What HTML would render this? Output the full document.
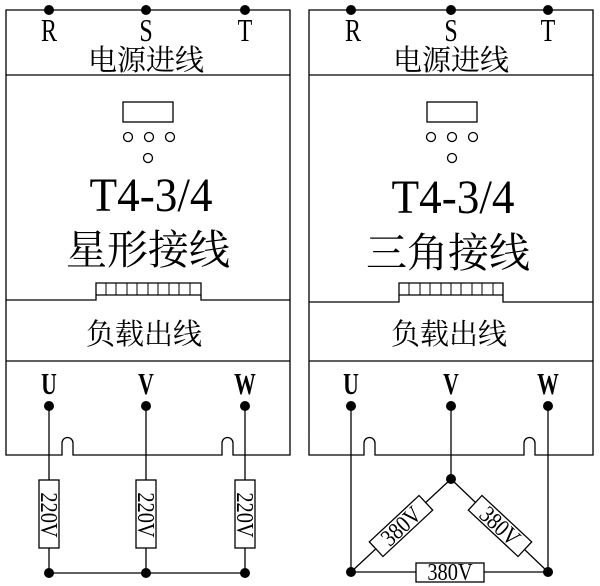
<!DOCTYPE html>
<html><head><meta charset="utf-8"><style>
body{margin:0;background:#fff}
svg{display:block}
.s{font-family:"Liberation Serif","Noto Serif CJK SC",serif;fill:#000}
.c{font-family:"Liberation Serif","Noto Serif CJK SC","Noto Sans CJK SC",serif;fill:#000}
</style></head><body>
<svg width="600" height="586" viewBox="0 0 600 586" xmlns="http://www.w3.org/2000/svg">
<g stroke="#000" stroke-width="1.3" fill="none">
<path d="M6,10 H290 V455 H233 V443 A5.5,5.5 0 0 0 222,443 V455 H73 V443 A5.5,5.5 0 0 0 62,443 V455 H6 Z"/>
<line x1="6" y1="75" x2="290" y2="75"/>
<path d="M6,300 H96 V283 H201 V300 H290"/>
<path d="M96,295 H201"/>
<line x1="6" y1="361" x2="290" y2="361"/>
<rect x="123" y="102" width="50" height="20"/>
<circle cx="128" cy="137" r="4.5"/><circle cx="149" cy="137" r="4.5"/><circle cx="170" cy="137" r="4.5"/><circle cx="148" cy="158" r="4.5"/>
<path d="M309,10 H593 V455 H535 V443 A5.5,5.5 0 0 0 524,443 V455 H375 V443 A5.5,5.5 0 0 0 364,443 V455 H309 Z"/>
<line x1="309" y1="75" x2="593" y2="75"/>
<path d="M309,302 H399 V283 H503 V302 H593"/>
<path d="M399,295 H503"/>
<line x1="309" y1="361" x2="593" y2="361"/>
<rect x="427" y="102" width="50" height="20"/>
<circle cx="431" cy="137" r="4.5"/><circle cx="452" cy="137" r="4.5"/><circle cx="473" cy="137" r="4.5"/><circle cx="452" cy="158" r="4.5"/>
<line x1="49" y1="406" x2="49" y2="573"/><line x1="146" y1="406" x2="146" y2="573"/><line x1="245" y1="406" x2="245" y2="573"/>
<line x1="49" y1="573" x2="245" y2="573"/>
<line x1="351" y1="406" x2="351" y2="572"/><line x1="451" y1="406" x2="451" y2="479"/><line x1="548" y1="406" x2="548" y2="572"/>
<line x1="351" y1="572" x2="548" y2="572"/>
<line x1="351" y1="572" x2="451" y2="479"/><line x1="451" y1="479" x2="548" y2="572"/>
</g>
<g stroke="#000" stroke-width="1">
<path d="M106,283V295M116,283V295M127,283V295M137,283V295M148,283V295M158,283V295M169,283V295M179,283V295M190,283V295"/>
<path d="M409,283V295M420,283V295M430,283V295M441,283V295M451,283V295M461,283V295M472,283V295M482,283V295M493,283V295"/>
</g>
<g stroke="#000" stroke-width="1.3" fill="#fff">
<rect x="39" y="480" width="20" height="68"/><rect x="136" y="480" width="20" height="68"/><rect x="235" y="480" width="20" height="68"/>
<rect x="416" y="563" width="68" height="19"/>
<rect x="-34" y="-10" width="68" height="20" transform="translate(401,526) rotate(-43)"/>
<rect x="-34" y="-10" width="68" height="20" transform="translate(500,526) rotate(43)"/>
</g>
<g fill="#000">
<circle cx="49" cy="10" r="5"/><circle cx="146" cy="10" r="5"/><circle cx="245" cy="10" r="5"/>
<circle cx="351" cy="10" r="5"/><circle cx="451" cy="10" r="5"/><circle cx="548" cy="10" r="5"/>
<circle cx="49" cy="406" r="5"/><circle cx="146" cy="406" r="5"/><circle cx="245" cy="406" r="5"/>
<circle cx="351" cy="406" r="5"/><circle cx="451" cy="406" r="5"/><circle cx="548" cy="406" r="5"/>
<circle cx="49" cy="573" r="5"/><circle cx="146" cy="573" r="5"/><circle cx="245" cy="573" r="5"/>
<circle cx="351" cy="572" r="5"/><circle cx="451" cy="479" r="5"/><circle cx="548" cy="572" r="5"/>
</g>
<g class="s" text-anchor="middle" font-size="32">
<text transform="translate(49,41) scale(0.75,1)">R</text>
<text transform="translate(146,41) scale(0.75,1)">S</text>
<text transform="translate(245,41) scale(0.75,1)">T</text>
<text transform="translate(353,41) scale(0.75,1)">R</text>
<text transform="translate(451,41) scale(0.75,1)">S</text>
<text transform="translate(548,41) scale(0.75,1)">T</text>
</g>
<g class="s" text-anchor="middle" font-size="31" font-weight="bold">
<text transform="translate(49,394) scale(0.7,1)">U</text>
<text transform="translate(146,394) scale(0.7,1)">V</text>
<text transform="translate(245,394) scale(0.7,1)">W</text>
<text transform="translate(351,394) scale(0.7,1)">U</text>
<text transform="translate(451,394) scale(0.7,1)">V</text>
<text transform="translate(548,394) scale(0.7,1)">W</text>
</g>
<g class="c" text-anchor="middle">
<text x="146" y="70" font-size="29">电源进线</text>
<text x="451" y="70" font-size="29">电源进线</text>
<text x="151" y="211" font-size="48" textLength="123" lengthAdjust="spacingAndGlyphs">T4-3/4</text>
<text x="453" y="213" font-size="48" textLength="123" lengthAdjust="spacingAndGlyphs">T4-3/4</text>
<text x="148" y="264" font-size="41">星形接线</text>
<text x="448" y="267" font-size="41">三角接线</text>
<text x="144" y="344" font-size="29">负载出线</text>
<text x="449" y="344" font-size="29">负载出线</text>
</g>
<g class="s" text-anchor="middle" font-size="24">
<text transform="translate(49,515) rotate(90) scale(0.85,1)" y="8">220V</text>
<text transform="translate(146,515) rotate(90) scale(0.85,1)" y="8">220V</text>
<text transform="translate(245,515) rotate(90) scale(0.85,1)" y="8">220V</text>
<text transform="translate(450,580) scale(0.85,1)">380V</text>
<text transform="translate(401,526) rotate(-43) scale(0.85,1)" y="8">380V</text>
<text transform="translate(500,526) rotate(43) scale(0.85,1)" y="8">380V</text>
</g>
</svg>
</body></html>
